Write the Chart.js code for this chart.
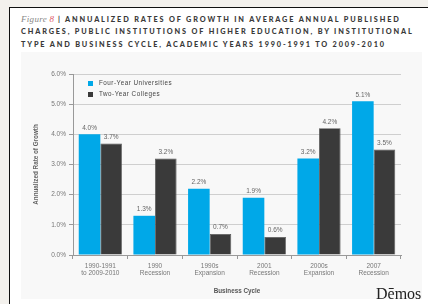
<!DOCTYPE html>
<html>
<head>
<meta charset="utf-8">
<script src="https://cdn.jsdelivr.net/npm/chart.js@4.4.0/dist/chart.umd.min.js"></script>
<style>
  html, body { margin: 0; padding: 0; }
  body { width: 428px; height: 304px; background: #f3f1ed; position: relative; overflow: hidden; }
  .page { position: absolute; left: 9px; top: 7px; right: -5px; bottom: -5px; background: #fff;
          border-left: 1.5px solid #111; border-top: 1.5px solid #111; }
  .title { position: absolute; left: 11px; top: 5px; font-family: 'Lato', 'DejaVu Sans', sans-serif;
           font-weight: 900; font-size: 7.3px; letter-spacing: 1.85px; line-height: 12.3px; color: #3a3a3a; }
  .title .fig { font-family: 'Liberation Serif', serif; font-style: italic; font-weight: normal;
                font-size: 9px; letter-spacing: 0.3px; color: #888; }
  .title .fig b { color: #e05a6a; font-weight: normal; }
  .panel { position: absolute; left: 21px; top: 52px; width: 401px; height: 247px; background: #f8f8f8; }
  .panel canvas { position: absolute; left: 0; top: 0; }
  .legend { position: absolute; left: 67px; top: 25px; font-family: 'Liberation Sans', Arial, sans-serif;
            font-size: 6.3px; letter-spacing: 0.5px; color: #444; line-height: 11px; }
  .legend span.sw { display: inline-block; width: 5px; height: 5px; margin-right: 6px; vertical-align: -0.5px; }
  .demos { position: absolute; left: 376px; top: 285px; font-family: 'Liberation Serif', serif;
           font-size: 16px; color: #222; }
</style>
</head>
<body>
<div class="page">
  <div class="title"><span class="fig">Figure <b>8</b></span> | ANNUALIZED RATES OF GROWTH IN AVERAGE ANNUAL PUBLISHED<br>CHARGES, PUBLIC INSTITUTIONS OF HIGHER EDUCATION, BY INSTITUTIONAL<br>TYPE AND BUSINESS CYCLE, ACADEMIC YEARS 1990-1991 TO 2009-2010</div>
</div>
<div class="panel">
  <canvas id="growthChart" width="401" height="247"></canvas>
  <div class="legend">
    <div><span class="sw" style="background:#00a8e8"></span>Four-Year Universities</div>
    <div><span class="sw" style="background:#3a3a3a"></span>Two-Year Colleges</div>
  </div>
</div>
<div class="demos">Dēmos</div>

<script>
'use strict';

// Data
const cycleLabels = [
  ['1990-1991', 'to 2009-2010'],
  ['1990', 'Recession'],
  ['1990s', 'Expansion'],
  ['2001', 'Recession'],
  ['2000s', 'Expansion'],
  ['2007', 'Recession']
];
const fourYear = [4.0, 1.3, 2.2, 1.9, 3.2, 5.1];
const twoYear = [3.7, 3.2, 0.7, 0.6, 4.2, 3.5];
const yTicks = [0, 1, 2, 3, 4, 5, 6];

const textColor = '#777';
const gridColor = '#cfcfcf';

// Value labels above each bar
const barLabels = {
  id: 'barLabels',
  afterDatasetsDraw(chart) {
    const ctx = chart.ctx;
    ctx.save();
    ctx.font = '6.5px "Liberation Sans", Arial, sans-serif';
    ctx.fillStyle = '#666';
    ctx.textAlign = 'center';
    ctx.textBaseline = 'bottom';
    chart.data.datasets.forEach((ds, i) => {
      chart.getDatasetMeta(i).data.forEach((bar, j) => {
        ctx.fillText(ds.data[j].toFixed(1) + '%', bar.x, bar.y - 3);
      });
    });
    ctx.restore();
  }
};

new Chart(document.getElementById('growthChart'), {
  type: 'bar',
  data: {
    labels: cycleLabels,
    datasets: [
      {
        label: 'Four-Year Universities',
        data: fourYear,
        backgroundColor: '#00a8e8',
        borderWidth: 0
      },
      {
        label: 'Two-Year Colleges',
        data: twoYear,
        backgroundColor: '#3a3a3a',
        borderColor: '#555',
        borderWidth: 0.8
      }
    ]
  },
  options: {
    responsive: false,
    animation: false,
    layout: { padding: { left: 0, top: 22, right: 21, bottom: 4 } },
    plugins: {
      legend: { display: false },
      tooltip: { enabled: false }
    },
    datasets: { bar: { categoryPercentage: 0.79, barPercentage: 1 } },
    scales: {
      x: {
        grid: { offset: true, drawOnChartArea: false, color: '#999', tickLength: 4 },
        border: { color: '#999' },
        ticks: {
          color: textColor,
          font: { family: 'Liberation Sans, Arial, sans-serif', size: 6.5 },
          padding: 3,
          maxRotation: 0
        },
        title: {
          display: true,
          text: 'Business Cycle',
          color: '#555',
          font: { family: 'Liberation Sans, Arial, sans-serif', size: 6.3, weight: 'bold' },
          padding: { top: 9, bottom: 0 }
        },
        afterFit(scale) { scale.height = 40; }
      },
      y: {
        min: 0,
        max: 6,
        afterBuildTicks(scale) { scale.ticks = yTicks.map(v => ({ value: v })); },
        grid: { color: gridColor, tickLength: 4, tickColor: '#999' },
        border: { color: '#999' },
        ticks: {
          color: textColor,
          font: { family: 'Liberation Sans, Arial, sans-serif', size: 6.5 },
          padding: 3,
          callback: v => v.toFixed(1) + '%'
        },
        title: {
          display: true,
          text: 'Annualized Rate of Growth',
          color: '#666',
          font: { family: 'Liberation Sans, Arial, sans-serif', size: 6.3, weight: 'bold' },
          padding: { top: 11, bottom: 0 }
        },
        afterFit(scale) { scale.width = 52; }
      }
    }
  },
  plugins: [barLabels]
});
</script>
</body>
</html>
